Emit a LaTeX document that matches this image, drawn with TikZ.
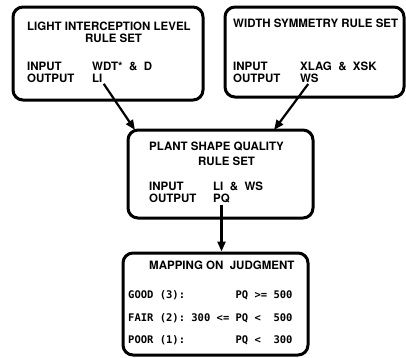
\documentclass[tikz,border=0pt]{standalone}
\usepackage{fontspec}
\setmainfont{TeX Gyre Heros}
\newfontfamily\mapfont{DejaVu Sans Mono}
\usetikzlibrary{arrows.meta}
\tikzset{
	rulebox/.style={draw=black, line width=3pt, rounded corners=10pt, inner sep=0pt},
	boxtext/.style={anchor=base west, inner sep=0pt, font=\fontsize{11.5}{12}\selectfont\bfseries},
	maptext/.style={anchor=base west, inner sep=0pt, font=\fontsize{10.5}{12}\mapfont\bfseries},
	flowarrow/.style={line width=2.2pt, shorten <=2pt, -{Triangle[length=10pt,width=8pt]}}
}

\begin{document}
\begin{tikzpicture}[x=1pt, y=-1pt]
		\useasboundingbox (0,0) rectangle (406,357);
		
		\node[rulebox, minimum width=190pt, minimum height=93pt] (light) at (108,53.5) {};
		\node[boxtext] (lighttitle) at (27,30) {LIGHT INTERCEPTION LEVEL};
		\node[boxtext] (lightsub) at (85,42) {RULE SET};
		\node[boxtext] (lightin) at (27,70) {INPUT};
		\node[boxtext] (lightinval) at (92,70) {WDT*\ \ \&\ \ D};
		\node[boxtext] (lightout) at (27,82) {OUTPUT};
		\node[boxtext] (li) at (92,82) {LI};
		
		\node[rulebox, minimum width=179pt, minimum height=90pt] (width) at (314.5,52) {};
		\node[boxtext] (widthtitle) at (233,27) {WIDTH SYMMETRY RULE SET};
		\node[boxtext] (widthin) at (233,70) {INPUT};
		\node[boxtext] (widthinval) at (300,70) {XLAG\ \ \&\ \ XSK};
		\node[boxtext] (widthout) at (233,82) {OUTPUT};
		\node[boxtext] (ws) at (300,82) {WS};
		
		\node[rulebox, minimum width=185pt, minimum height=88pt] (quality) at (220.5,174) {};
		\node[boxtext] (qualitytitle) at (149,150) {PLANT SHAPE QUALITY};
		\node[boxtext] (qualitysub) at (198,165) {RULE SET};
		\node[boxtext] (qualityin) at (149,190) {INPUT};
		\node[boxtext] (qualityinval) at (213,190) {LI\ \ \&\ \ WS};
		\node[boxtext] (qualityout) at (149,202) {OUTPUT};
		\node[boxtext] (pq) at (213,202) {PQ};
		
		\node[rulebox, minimum width=185pt, minimum height=102pt] (mapping) at (215.5,304) {};
		\node[boxtext] (mappingtitle) at (149,269) {MAPPING ON\ \ JUDGMENT};
		\node[maptext] (good) at (128,298) {GOOD~(3):~~~~~~~~PQ~>=~500};
		\node[maptext] (fair) at (128,321) {FAIR~(2):~300~<=~PQ~<~~500};
		\node[maptext] (poor) at (128,343) {POOR~(1):~~~~~~~~PQ~<~~300};
		
		\coordinate (qualityleft) at (135,130);
		\coordinate (qualityright) at (274,130);
		\draw[flowarrow] (li.south east) -- (qualityleft);
		\draw[flowarrow] (ws.south) -- (qualityright);
		\draw[flowarrow] (pq.south) -- (pq.south |- mapping.north);
	\end{tikzpicture}
\end{document}
